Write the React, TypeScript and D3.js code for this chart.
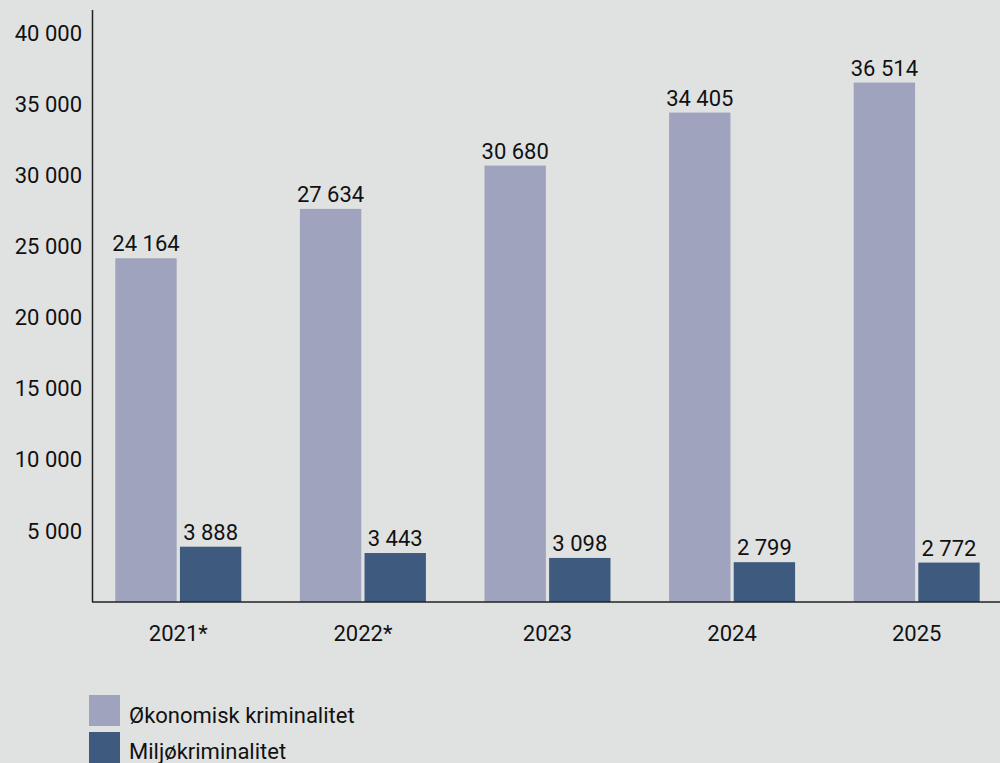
import React from "react";
import * as d3 from "d3";

const years = ["2021*", "2022*", "2023", "2024", "2025"];
const okonomisk = [24164, 27634, 30680, 34405, 36514];
const miljo = [3888, 3443, 3098, 2799, 2772];
const yTicks = [5000, 10000, 15000, 20000, 25000, 30000, 35000, 40000];
const seriesNames = ["Økonomisk kriminalitet", "Miljøkriminalitet"];
const colors = ["#9fa3bd", "#3e5a7e"];

const W = 1000;
const H = 763;
const fmt = (v: number) => d3.format(",")(v).replace(/,/g, " ");

export default function App() {
  const x = d3.scaleBand<string>().domain(years).range([86, 1009]).padding(0);
  const inner = d3
    .scaleBand<string>()
    .domain(["a", "b"])
    .range([-63, 63])
    .paddingInner(0.05)
    .paddingOuter(0);
  const y = d3.scaleLinear().domain([0, 40000]).range([602, 33]);
  const font = "Roboto, 'DejaVu Sans', sans-serif";
  const series = [okonomisk, miljo];
  const fs = 22;

  return (
    <svg
      width={W}
      height={H}
      style={{ position: "absolute", left: 0, top: 0, background: "#e0e2e1" }}
      fontFamily={font}
    >
      <rect x={0} y={0} width={W} height={H} fill="#e0e2e1" />
      {years.map((yr, i) => {
        const cx = (x(yr) as number) + x.bandwidth() / 2;
        return (
          <g key={yr}>
            {series.map((s, k) => {
              const bx = cx + (inner(k === 0 ? "a" : "b") as number);
              const v = s[i];
              return (
                <g key={k}>
                  <rect
                    x={bx}
                    y={y(v)}
                    width={inner.bandwidth()}
                    height={y(0) - y(v)}
                    fill={colors[k]}
                  />
                  <text
                    x={bx + inner.bandwidth() / 2}
                    y={y(v) - 7}
                    textAnchor="middle"
                    fontSize={fs}
                    fill="#111"
                  >
                    {fmt(v)}
                  </text>
                </g>
              );
            })}
            <text x={cx} y={641} textAnchor="middle" fontSize={fs} fill="#111">
              {yr}
            </text>
          </g>
        );
      })}
      {yTicks.map((t) => (
        <text
          key={t}
          x={82}
          y={y(t)}
          dy="0.35em"
          textAnchor="end"
          fontSize={fs}
          fill="#111"
        >
          {fmt(t)}
        </text>
      ))}
      <line x1={92.5} x2={92.5} y1={10} y2={y(0)} stroke="#222" strokeWidth={1.5} />
      <line x1={92} x2={W} y1={y(0)} y2={y(0)} stroke="#222" strokeWidth={1.5} />
      {seriesNames.map((n, k) => (
        <g key={n}>
          <rect x={89} y={695 + k * 37} width={31} height={31} fill={colors[k]} />
          <text x={129} y={715 + k * 36} dy="0.35em" fontSize={fs} fill="#111">
            {n}
          </text>
        </g>
      ))}
    </svg>
  );
}
